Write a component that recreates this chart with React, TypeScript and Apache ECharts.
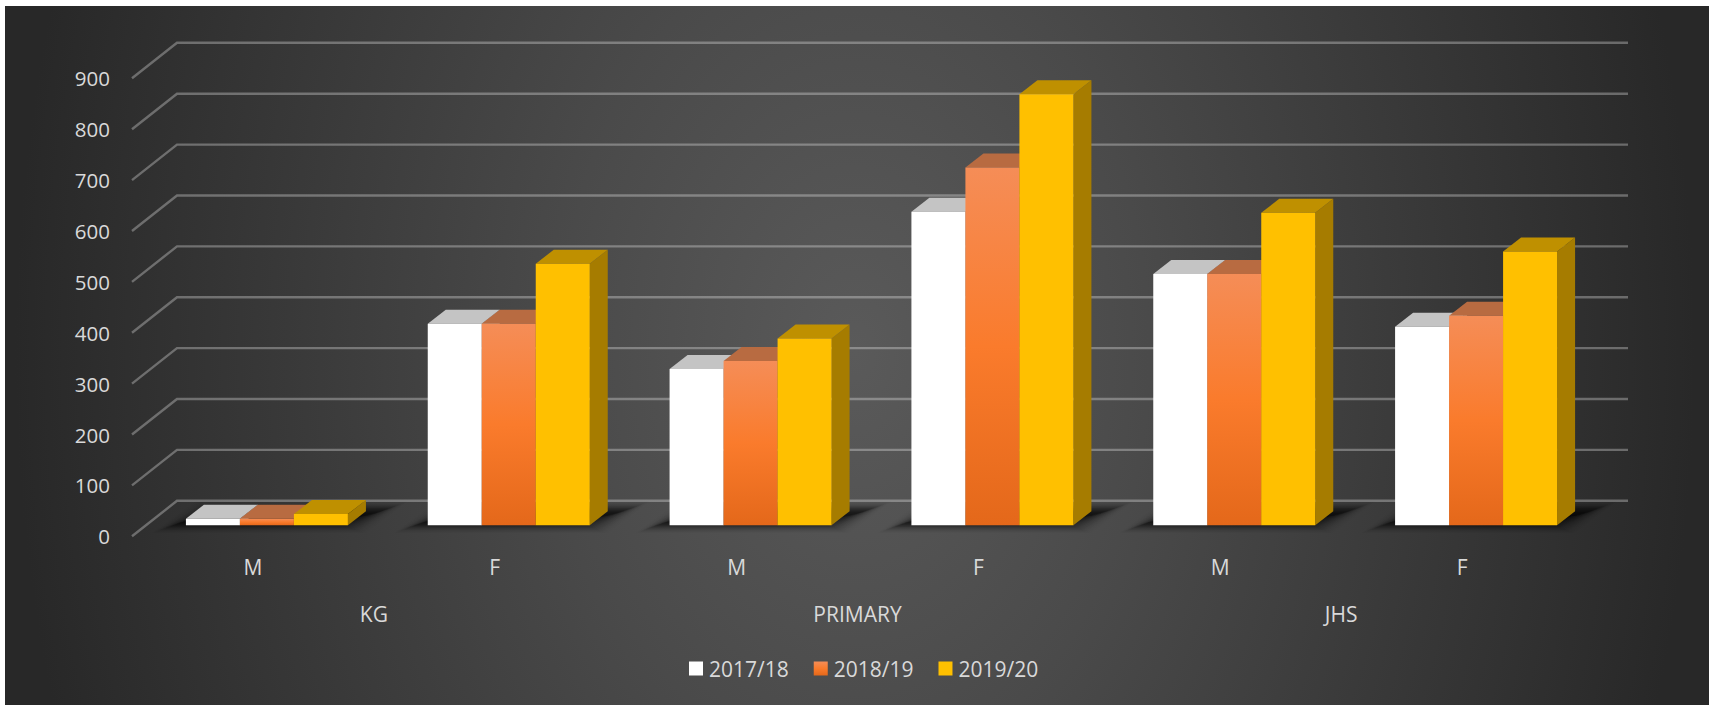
import React, { useEffect, useRef } from "react";
import * as echarts from "echarts";

// Enrolment by level and sex, three academic years.
const levels = ["KG", "PRIMARY", "JHS"];
const sexes = ["M", "F", "M", "F", "M", "F"];
const years = ["2017/18", "2018/19", "2019/20"];
const ticks = [0, 100, 200, 300, 400, 500, 600, 700, 800, 900];

const values2017 = [13, 396, 307, 616, 494, 390];
const values2018 = [13, 396, 323, 703, 494, 412];
const values2019 = [22, 514, 367, 847, 614, 538];

const W = 1709;
const H = 705;
const TEXT = "#d9d9d9";
const FONT = "'Open Sans', sans-serif";

// Pseudo-3D layout: the back wall sits up and to the right of the front plane.
const WALL_DX = 45;
const WALL_DY = -35.5;
const BAR_W = 54;
const BAR_DX = 18;
const BAR_DY = -14;
const ROW_DX = 14;
const ROW_DY = -11;

const orangeFront = new echarts.graphic.LinearGradient(0, 0, 0, 1, [
  { offset: 0, color: "#f58d57" },
  { offset: 0.5, color: "#fa7b2c" },
  { offset: 1, color: "#e4681a" },
]);

const faces = [
  { front: "#ffffff", top: "#c4c4c4", side: "#a6a6a6" },
  { front: orangeFront, top: "#b86b41", side: "#a9551f" },
  { front: "#ffc000", top: "#bf9000", side: "#a67c00" },
];

const renderBar = (j: number) => (_: any, api: any) => {
  const p = api.coord([api.value(0), api.value(1)]);
  const base = api.coord([api.value(0), 0]);
  const x0 = p[0] + ROW_DX - 1.5 * BAR_W + j * BAR_W;
  const x1 = x0 + BAR_W;
  const yTop = p[1] + ROW_DY;
  const yBase = base[1] + ROW_DY;
  const f = faces[j];
  return {
    type: "group",
    children: [
      {
        type: "polygon",
        shape: { points: [[x1, yTop], [x1 + BAR_DX, yTop + BAR_DY], [x1 + BAR_DX, yBase + BAR_DY], [x1, yBase]] },
        style: { fill: f.side },
      },
      {
        type: "polygon",
        shape: { points: [[x0, yTop], [x0 + BAR_DX, yTop + BAR_DY], [x1 + BAR_DX, yTop + BAR_DY], [x1, yTop]] },
        style: { fill: f.top },
      },
      {
        type: "rect",
        shape: { x: x0, y: yTop, width: BAR_W, height: yBase - yTop },
        style: { fill: f.front },
      },
    ],
  };
};

// Soft floor shadow under each cluster: stacked layers whose opacity eases in and out.
const renderShadow = (_: any, api: any) => {
  const p = api.coord([api.value(0), 0]);
  const left = p[0] + ROW_DX - 1.5 * BAR_W;
  const right = p[0] + ROW_DX + 1.5 * BAR_W;
  const base = p[1] + ROW_DY;
  const layers = 24;
  const children = [];
  for (let k = 0; k < layers; k++) {
    const ix = k * 1.8;
    const iy = k * 0.68;
    const ease = Math.sin((Math.PI * k) / layers);
    children.push({
      type: "polygon",
      shape: {
        points: [
          [left - 34 + ix, base + 8 - iy],
          [right + 17 - ix, base + 8 - iy],
          [right + 60 - ix, base - 24 + iy],
          [left + 10 + ix, base - 24 + iy],
        ],
      },
      style: { fill: `rgba(0,0,0,${(0.012 + 0.075 * ease * ease).toFixed(3)})` },
    });
  }
  return { type: "group", children };
};

// One gridline per tick: a diagonal on the side wall, then the run along the back wall.
const renderWallLine = (params: any, api: any) => {
  const cs = params.coordSys;
  const y = api.coord([0, api.value(0)])[1];
  return {
    type: "polyline",
    shape: {
      points: [
        [cs.x, y],
        [cs.x + WALL_DX, y + WALL_DY],
        [cs.x + cs.width + WALL_DX, y + WALL_DY],
      ],
    },
    style: { fill: "none", stroke: "rgba(255,255,255,0.3)", lineWidth: 2.4 },
  };
};

const yearValues = [values2017, values2018, values2019];

export default function App() {
  const ref = useRef<HTMLDivElement>(null);

  useEffect(() => {
    const chart = echarts.init(ref.current!, null, { renderer: "svg" });
    chart.setOption({
      animation: false,
      grid: { left: 132, top: 78.3, width: 1451, height: 458, containLabel: false },
      legend: {
        data: years,
        left: 689,
        top: 658,
        padding: 0,
        itemWidth: 14,
        itemHeight: 14,
        itemGap: 25,
        icon: "rect",
        textStyle: { color: TEXT, fontFamily: FONT, fontSize: 21, padding: [0, 0, 0, 1] },
      },
      xAxis: [
        {
          type: "category",
          data: sexes,
          axisLine: { show: false },
          axisTick: { show: false },
          splitLine: { show: false },
          axisLabel: { color: TEXT, fontFamily: FONT, fontSize: 21, margin: 20 },
        },
        {
          type: "category",
          data: levels,
          position: "bottom",
          offset: 47,
          axisLine: { show: false },
          axisTick: { show: false },
          splitLine: { show: false },
          axisLabel: { color: TEXT, fontFamily: FONT, fontSize: 21, margin: 20 },
        },
      ],
      yAxis: {
        type: "value",
        min: 0,
        max: 900,
        interval: 100,
        axisLine: { show: false },
        axisTick: { show: false },
        splitLine: { show: false },
        axisLabel: { color: TEXT, fontFamily: FONT, fontSize: 20.5, margin: 22 },
      },
      series: [
        {
          type: "custom",
          name: "gridlines",
          z: 1,
          silent: true,
          clip: false,
          renderItem: renderWallLine,
          encode: { y: 0 },
          data: ticks.map((t) => [t]),
        },
        {
          type: "custom",
          name: "shadows",
          z: 2,
          silent: true,
          clip: false,
          renderItem: renderShadow,
          encode: { x: 0 },
          data: sexes.map((_, i) => [i]),
        },
        ...years.map((name, j) => ({
          type: "custom",
          name,
          z: 3 + j,
          clip: false,
          itemStyle: { color: faces[j].front },
          renderItem: renderBar(j),
          encode: { x: 0, y: 1 },
          data: yearValues[j].map((v, i) => [i, v]),
        })),
      ],
    });
    return () => chart.dispose();
  }, []);

  return (
    <div
      ref={ref}
      style={{
        position: "absolute",
        left: 0,
        top: 0,
        width: W,
        height: H,
        background:
          "radial-gradient(ellipse 840px 1200px at 850px 346px, #5a5a5a 0%, #4a4a4a 35%, #282828 100%) 5px 6px / 1704px 699px no-repeat, #ffffff",
      }}
    />
  );
}
